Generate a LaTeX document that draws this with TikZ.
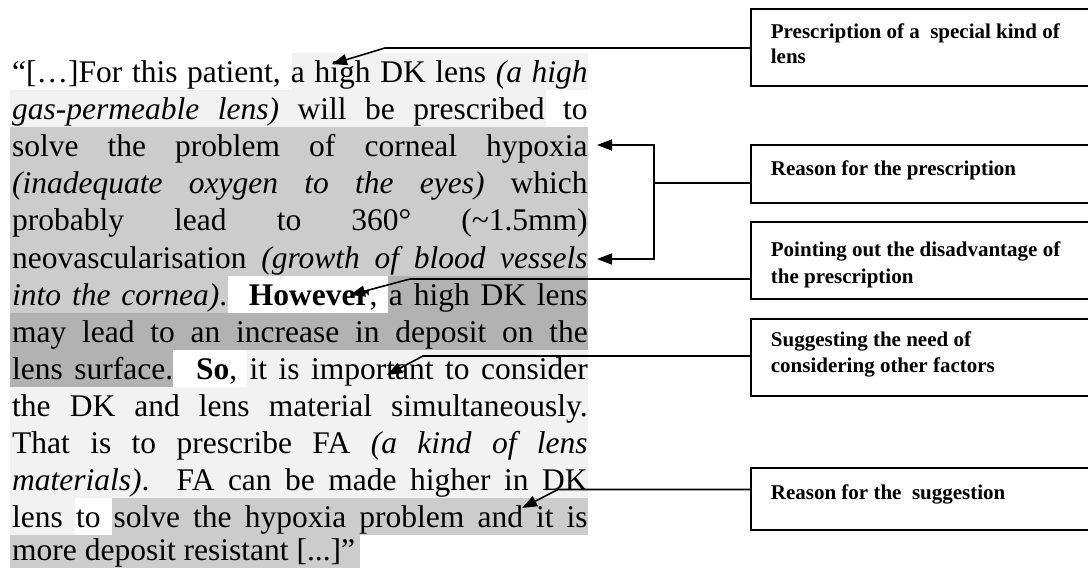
\documentclass[tikz,border=0pt]{standalone}
\usepackage{fontspec}
\setmainfont{Liberation Serif}
\usetikzlibrary{arrows.meta}
\definecolor{hlA}{gray}{0.95}
\definecolor{hlB}{gray}{0.80}
\definecolor{hlC}{gray}{0.70}
\newcommand\hlbar[4]{\fill[#4] (#2,{53+37.1*(#1-1)}) rectangle (#3,{53+37.1*#1});}
\newcommand\tline[2]{\node[mtext] (L#1) at (12,{82.5+37.1*(#1-1)}) {\makebox[575.5pt][s]{#2}};}
\begin{document}
\begin{tikzpicture}[x=1pt,y=-1pt,
  mtext/.style={anchor=base west, inner sep=0pt, font=\fontsize{31.5}{37}\selectfont},
  btext/.style={anchor=base west, inner sep=0pt, font=\fontsize{21}{25}\selectfont\bfseries},
  lbox/.style={draw, line width=1.9pt, rectangle, anchor=north west, minimum width=360pt, inner sep=0pt},
  arr/.style={line width=1.6pt, line join=miter, -{Triangle[length=15pt,width=11pt]}},
  conn/.style={line width=1.6pt}]
\useasboundingbox (0,0) rectangle (1088,568);
\clip (0,0) rectangle (1088,568);
% highlights
\hlbar{1}{292}{588}{hlA}
\hlbar{2}{10}{546}{hlA}
\hlbar{3}{10}{588}{hlB}
\hlbar{4}{10}{588}{hlB}
\hlbar{5}{10}{588}{hlB}
\hlbar{6}{10}{588}{hlB}
\hlbar{7}{10}{228}{hlB}
\hlbar{7}{388}{588}{hlC}
\hlbar{8}{10}{588}{hlC}
\hlbar{9}{10}{173}{hlC}
\hlbar{9}{247}{588}{hlA}
\hlbar{10}{10}{588}{hlA}
\hlbar{11}{10}{588}{hlA}
\hlbar{12}{10}{588}{hlA}
\hlbar{13}{10}{75}{hlA}
\hlbar{13}{112}{588}{hlB}
\hlbar{14}{10}{360}{hlB}
% text
\tline{1}{“[…]For this patient, a high DK lens \textit{(a high}}
\tline{2}{\textit{gas-permeable lens)} will be prescribed to}
\tline{3}{solve the problem of corneal hypoxia}
\tline{4}{\textit{(inadequate oxygen to the eyes)} which}
\tline{5}{probably lead to 360° (\textasciitilde1.5mm)}
\tline{6}{neovascularisation \textit{(growth of blood vessels}}
\tline{7}{\textit{into the cornea)}.\ \ \textbf{However}, a high DK lens}
\tline{8}{may lead to an increase in deposit on the}
\tline{9}{lens surface.\ \ \textbf{So}, it is important to consider}
\tline{10}{the DK and lens material simultaneously.}
\tline{11}{That is to prescribe FA \textit{(a kind of lens}}
\tline{12}{\textit{materials)}.\ \ FA can be made higher in DK}
\tline{13}{lens to solve the hypoxia problem and it is}
\node[mtext] (L14) at (12,560.8) {more deposit resistant [...]”};
% boxes
\node[lbox, minimum height=77pt] (B1) at (750,8) {};
\node[lbox, minimum height=58pt] (B2) at (750,144) {};
\node[lbox, minimum height=77pt] (B3) at (750,221) {};
\node[lbox, minimum height=77pt] (B4) at (750,318) {};
\node[lbox, minimum height=62pt] (B5) at (750,467) {};
\node[btext] (T1a) at (770.7,38.3) {Prescription of a\ \ special kind of};
\node[btext] (T1b) at (770.7,63.3) {lens};
\node[btext] (T2) at (770.7,175.7) {Reason for the prescription};
\node[btext] (T3a) at (770.7,256.7) {Pointing out the disadvantage of};
\node[btext] (T3b) at (770.7,283.3) {the prescription};
\node[btext] (T4a) at (770.7,346.7) {Suggesting the need of};
\node[btext] (T4b) at (770.7,372.7) {considering other factors};
\node[btext] (T5) at (770.7,499.3) {Reason for the\ \ suggestion};
% connectors
\coordinate (k1) at (385,48);
\coordinate (t1) at (332,64);
\draw[arr] (B1.west |- k1) -- (k1) -- (t1);
\coordinate (k2m) at (654,182.7);
\coordinate (k2a) at (654,145);
\coordinate (k2b) at (654,259);
\coordinate (t2a) at (597,145);
\coordinate (t2b) at (597,259);
\draw[conn] (B2.west |- k2m) -- (k2m);
\draw[conn, line join=miter, {Triangle[length=15pt,width=11pt]}-{Triangle[length=15pt,width=11pt]}] (t2a) -- (k2a) -- (k2b) -- (t2b);
\coordinate (k3) at (410,279);
\coordinate (t3) at (350,295);
\draw[arr] (B3.west |- k3) -- (k3) -- (t3);
\coordinate (k4) at (423,356);
\coordinate (t4) at (387,375);
\draw[arr] (B4.west |- k4) -- (k4) -- (t4);
\coordinate (k5) at (558,489.5);
\coordinate (t5) at (522,508);
\draw[arr] (B5.west |- k5) -- (k5) -- (t5);
\end{tikzpicture}
\end{document}
